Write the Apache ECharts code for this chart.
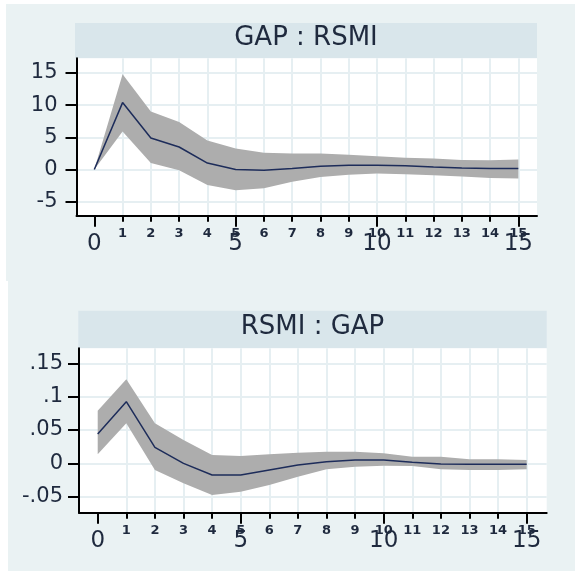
<!DOCTYPE html>
<html>
<head>
<meta charset="utf-8">
<script src="https://cdn.jsdelivr.net/npm/echarts@6/dist/echarts.min.js"></script>
<style>
html,body{margin:0;padding:0;background:#fff;}
#c{width:575px;height:571px;}
</style>
</head>
<body>
<div id="c"></div>
<script>
// ---- data ----
const steps = [0,1,2,3,4,5,6,7,8,9,10,11,12,13,14,15];

const title1 = 'GAP : RSMI';
const irf1 = [0, 10.4, 4.9, 3.5, 1.0, 0.0, -0.1, 0.15, 0.5, 0.65, 0.65, 0.6, 0.4, 0.25, 0.15, 0.15];
const lo1  = [0, 5.9, 1.0, -0.1, -2.4, -3.2, -2.9, -1.9, -1.15, -0.8, -0.6, -0.75, -0.9, -1.1, -1.3, -1.4];
const hi1  = [0, 14.8, 9.0, 7.4, 4.5, 3.25, 2.6, 2.5, 2.5, 2.3, 2.05, 1.85, 1.7, 1.5, 1.45, 1.55];
const yTicks1 = [-5, 0, 5, 10, 15];
const yLabels1 = ['-5', '0', '5', '10', '15'];

const title2 = 'RSMI : GAP';
const irf2 = [0.044, 0.0925, 0.024, 0.0, -0.0175, -0.0175, -0.01, -0.0025, 0.0025, 0.005, 0.005, 0.0015, -0.001, -0.0015, -0.0015, -0.0015];
const lo2  = [0.0135, 0.06, -0.01, -0.03, -0.0475, -0.0425, -0.0325, -0.02, -0.009, -0.005, -0.0035, -0.004, -0.009, -0.01, -0.01, -0.009];
const hi2  = [0.079, 0.126, 0.06, 0.035, 0.0125, 0.011, 0.0135, 0.016, 0.0175, 0.0175, 0.015, 0.01, 0.01, 0.006, 0.006, 0.005];
const yTicks2 = [-0.05, 0, 0.05, 0.1, 0.15];
const yLabels2 = ['-.05', '0', '.05', '.1', '.15'];

const xSmallTicks = [1,2,3,4,5,6,7,8,9,10,11,12,13,14,15];
const xBigTicks = [0, 5, 10, 15];

// ---- styles ----
const FONT = 'DejaVu Sans';
const TXT = '#1f2a3e';
const GRIDC = '#e6eff2';
const BAND = '#adadad';
const LINE = '#1d2c5a';

const chart = echarts.init(document.getElementById('c'), null, {renderer: 'canvas'});

function labelFor(ticks, labels) {
  return function (v) {
    for (let i = 0; i < ticks.length; i++) if (Math.abs(ticks[i] - v) < 1e-9) return labels[i];
    return '';
  };
}

function xAxes(gi, min, max, bigMargin) {
  return [
    {
      type: 'value', gridIndex: gi, min: min, max: max, position: 'bottom',
      axisLine: {show: true, onZero: false, lineStyle: {color: '#000', width: 2}},
      axisTick: {show: true, customValues: xSmallTicks, length: 6, lineStyle: {color: '#000', width: 2}},
      axisLabel: {show: true, customValues: xSmallTicks, margin: 11, fontFamily: FONT, fontSize: 13, fontWeight: 'bold', color: TXT},
      splitLine: {show: true, lineStyle: {color: GRIDC, width: 2}}
    },
    {
      type: 'value', gridIndex: gi, min: min, max: max, position: 'bottom',
      axisLine: {show: false, onZero: false},
      axisTick: {show: true, customValues: xBigTicks, length: 11, lineStyle: {color: '#000', width: 2}},
      axisLabel: {show: true, customValues: xBigTicks, margin: bigMargin, fontFamily: FONT, fontSize: 23, color: TXT},
      splitLine: {show: false}
    }
  ];
}

function yAxis(gi, min, max, ticks, labels, margin) {
  return {
    type: 'value', gridIndex: gi, min: min, max: max,
    axisLine: {show: true, onZero: false, lineStyle: {color: '#000', width: 2}},
    axisTick: {show: true, customValues: ticks, length: 11, lineStyle: {color: '#000', width: 2}},
    axisLabel: {show: true, customValues: ticks, margin: margin, fontFamily: FONT, fontSize: 21, color: TXT,
      formatter: labelFor(ticks, labels)},
    splitLine: {show: true, lineStyle: {color: GRIDC, width: 2}}
  };
}

function band(xi, yi, lo, hi) {
  return {
    type: 'custom', xAxisIndex: xi, yAxisIndex: yi, data: [0], silent: true, z: 2,
    renderItem: function (params, api) {
      const pts = [];
      for (let i = 0; i < steps.length; i++) pts.push(api.coord([steps[i], hi[i]]));
      for (let i = steps.length - 1; i >= 0; i--) pts.push(api.coord([steps[i], lo[i]]));
      return {type: 'polygon', shape: {points: pts}, style: {fill: BAND}};
    }
  };
}

function line(xi, yi, vals) {
  return {
    type: 'line', xAxisIndex: xi, yAxisIndex: yi, z: 3, symbol: 'none', silent: true,
    data: steps.map((s, i) => [s, vals[i]]),
    lineStyle: {color: LINE, width: 1.5}
  };
}

const option = {
  animation: false,
  backgroundColor: '#ffffff',
  graphic: [
    {type: 'rect', z: -10, shape: {x: 6, y: 4, width: 569, height: 277}, style: {fill: '#eaf2f3'}},
    {type: 'rect', z: -10, shape: {x: 8, y: 281, width: 567, height: 290}, style: {fill: '#eaf2f3'}},
    {type: 'rect', z: -9, shape: {x: 75, y: 23, width: 462, height: 35.3}, style: {fill: '#d9e6eb'}},
    {type: 'rect', z: -9, shape: {x: 78.3, y: 310.7, width: 468.4, height: 37.6}, style: {fill: '#d9e6eb'}}
  ],
  title: [
    {text: title1, left: 306, top: 25, textAlign: 'center', padding: 0,
      textStyle: {fontFamily: FONT, fontSize: 26, fontWeight: 'normal', color: TXT}},
    {text: title2, left: 312.5, top: 314, textAlign: 'center', padding: 0,
      textStyle: {fontFamily: FONT, fontSize: 26, fontWeight: 'normal', color: TXT}}
  ],
  grid: [
    {left: 76.5, top: 58.3, width: 460.5, height: 157.4, show: true, backgroundColor: '#ffffff', borderWidth: 0, containLabel: false},
    {left: 79, top: 348.3, width: 467.7, height: 164.4, show: true, backgroundColor: '#ffffff', borderWidth: 0, containLabel: false}
  ],
  xAxis: [].concat(xAxes(0, -0.63, 15.66, 17), xAxes(1, -0.654, 15.70, 17)),
  yAxis: [
    yAxis(0, -7.17, 17.28, yTicks1, yLabels1, 19),
    yAxis(1, -0.074, 0.1725, yTicks2, yLabels2, 16)
  ],
  series: [
    band(0, 0, lo1, hi1),
    line(0, 0, irf1),
    band(2, 1, lo2, hi2),
    line(2, 1, irf2)
  ]
};
chart.setOption(option);
</script>
</body>
</html>
